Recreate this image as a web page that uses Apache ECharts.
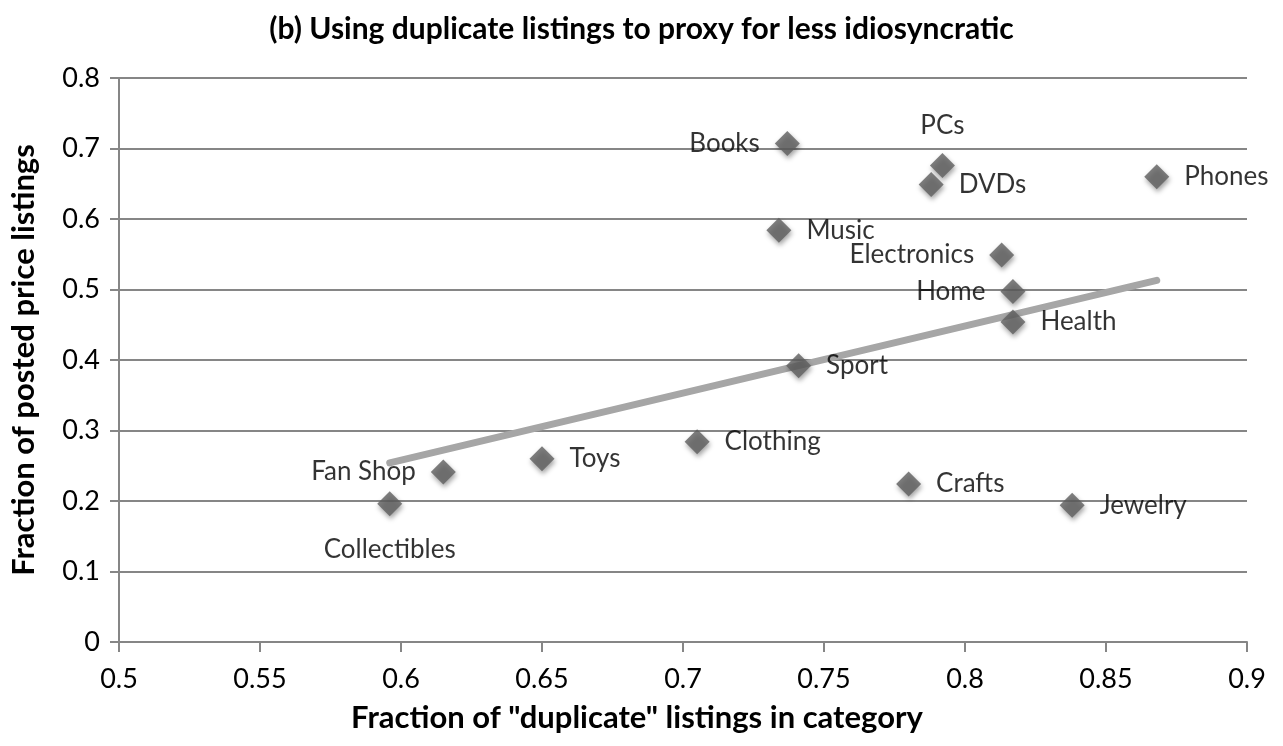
<!DOCTYPE html>
<html>
<head>
<meta charset="utf-8">
<script src="https://cdn.jsdelivr.net/npm/echarts@6/dist/echarts.min.js"></script>
<style>
html,body{margin:0;padding:0;background:#fff;}
#chart{width:1283px;height:746px;}
</style>
</head>
<body>
<div id="chart"></div>
<script>
// ---- data ----
const categories = ["Collectibles","Fan Shop","Toys","Clothing","Sport","Music","Books","PCs","DVDs","Phones","Electronics","Home","Health","Crafts","Jewelry"];
const duplicateShare = [0.596,0.615,0.650,0.705,0.741,0.734,0.737,0.792,0.788,0.868,0.813,0.817,0.817,0.780,0.838];
const postedPriceShare = [0.196,0.241,0.260,0.284,0.392,0.584,0.707,0.676,0.649,0.660,0.549,0.497,0.454,0.224,0.194];
const trendX = [0.596, 0.868];
const trendY = [0.254, 0.513];
const xTicks = ["0.5","0.55","0.6","0.65","0.7","0.75","0.8","0.85","0.9"];
const yTicks = ["0","0.1","0.2","0.3","0.4","0.5","0.6","0.7","0.8"];

// ---- label placement (styling) ----
const labelPlacement = {
  "Collectibles":"bottom","Fan Shop":"left","Books":"left","PCs":"top",
  "Electronics":"left","Home":"left"
};

const FONT = "Lato, 'Open Sans', sans-serif";
const points = categories.map((c,i)=>{
  const pos = labelPlacement[c] || "right";
  return {
    name:c,
    value:[duplicateShare[i], postedPriceShare[i]],
    label:{position:pos, distance: pos==="bottom"?20:(pos==="top"?14:15)}
  };
});

const chart = echarts.init(document.getElementById('chart'));
chart.setOption({
  animation:false,
  backgroundColor:'#ffffff',
  title:{
    text:'(b) Using duplicate listings to proxy for less idiosyncratic',
    left:'center', top:9,
    textStyle:{fontFamily:FONT, fontWeight:'bold', fontSize:30, color:'#000'}
  },
  grid:{left:119, right:36, top:78, bottom:104, containLabel:false},
  xAxis:{
    type:'value', min:0.5, max:0.9, interval:0.05,
    name:'Fraction of "duplicate" listings in category',
    nameLocation:'middle', nameGap:60,
    nameTextStyle:{fontFamily:FONT, fontWeight:'bold', fontSize:31, color:'#000', padding:[0,92,0,0]},
    axisLine:{show:true, lineStyle:{color:'#868686', width:2}},
    axisTick:{show:true, length:10, lineStyle:{color:'#868686', width:2}},
    axisLabel:{fontFamily:FONT, fontSize:27, color:'#000', margin:24,
      formatter:(v)=>{const k=Math.round((v-0.5)/0.05); return xTicks[k]!==undefined?xTicks[k]:String(v);}},
    splitLine:{show:false}
  },
  yAxis:{
    type:'value', min:0, max:0.8, interval:0.1,
    name:'Fraction of posted price listings',
    nameLocation:'middle', nameGap:80, nameRotate:90,
    nameTextStyle:{fontFamily:FONT, fontWeight:'bold', fontSize:31, color:'#000'},
    axisLine:{show:true, lineStyle:{color:'#868686', width:2}},
    axisTick:{show:true, length:9, lineStyle:{color:'#868686', width:2}},
    axisLabel:{fontFamily:FONT, fontSize:27, color:'#000', margin:19,
      formatter:(v)=>{const k=Math.round(v/0.1); return yTicks[k]!==undefined?yTicks[k]:String(v);}},
    splitLine:{show:true, lineStyle:{color:'#868686', width:2}}
  },
  series:[
    {
      type:'line',
      data:trendX.map((x,i)=>[x,trendY[i]]),
      symbol:'none',
      lineStyle:{color:'#a6a6a6', width:7, cap:'round'},
      z:2, silent:true
    },
    {
      type:'scatter',
      data:points,
      symbol:'diamond',
      symbolSize:[25,25],
      itemStyle:{color:'#5f5f5f', shadowColor:'rgba(0,0,0,0.45)', shadowBlur:5, shadowOffsetY:3, shadowOffsetX:1},
      label:{show:true, formatter:'{b}', fontFamily:FONT, fontSize:26, color:'#000'},
      z:3
    }
  ]
});
</script>
</body>
</html>
